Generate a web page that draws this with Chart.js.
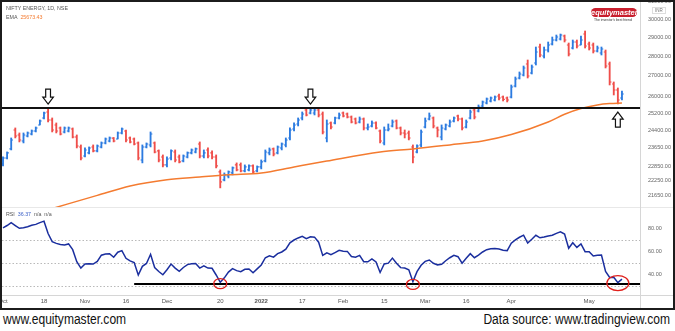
<!DOCTYPE html>
<html>
<head>
<meta charset="utf-8">
<script src="https://cdn.jsdelivr.net/npm/chart.js@4.4.1/dist/chart.umd.min.js"></script>
<style>
  body { margin: 0; background: #fff; font-family: "Liberation Sans", Arial, sans-serif; }
  #frame { position: absolute; left: 0; top: 0; width: 675px; height: 310px; box-sizing: border-box; border: 2px solid #1c1c1c; overflow: hidden; background: #fff; }
  #priceBox { position: absolute; left: 0; top: 0; width: 671px; height: 205px; }
  #rsiBox { position: absolute; left: 0; top: 205px; width: 671px; height: 100px; }
  .sep { position: absolute; background: #d6d6d6; }
  .txt { position: absolute; white-space: nowrap; color: #555; }
  #logo { position: absolute; left: 589px; top: 6px; width: 46px; height: 9px; border-radius: 5px; background: #c81e2d; color: #fff; font-weight: bold; font-style: italic; font-size: 7.5px; line-height: 9px; text-align: center; }
  #tag { position: absolute; left: 592px; top: 16px; font-size: 3.4px; color: #333; white-space: nowrap; }
  #inr { position: absolute; left: 650px; top: 5px; font-size: 4.5px; color: #777; border: 1px solid #ddd; padding: 0 2px; line-height: 5px; }
  .foot { position: absolute; top: 311px; font-size: 14px; line-height: 16px; color: #111; white-space: nowrap; }
</style>
</head>
<body>
<div id="frame">
  <div id="priceBox"><canvas id="priceChart"></canvas></div>
  <div id="rsiBox"><canvas id="rsiChart"></canvas></div>
  <div class="sep" style="left:0;top:205px;width:671px;height:1px;background:#e8e8e8"></div>
  <div class="sep" style="left:0;top:293px;width:671px;height:1px;"></div>
  <div class="sep" style="left:638px;top:0;width:1px;height:306px;"></div>
  <div class="txt" style="left:4px;top:3px;font-size:5.3px;">NIFTY ENERGY, 1D, NSE</div>
  <div class="txt" style="left:4px;top:12px;font-size:5.3px;">EMA&nbsp;&nbsp;<span style="color:#f47b30">25673.43</span></div>
  <div class="txt" style="left:4px;top:209px;font-size:5.3px;">RSI&nbsp;&nbsp;<span style="color:#3f63c8">36.37</span>&nbsp;&nbsp;n/a&nbsp;&nbsp;n/a</div>
  <div id="logo">equitymaster</div>
  <div id="tag">The investor's best friend</div>
  <div id="inr">INR</div>
</div>
<div class="foot" style="left:3px;transform:scaleX(0.86);transform-origin:left top;">www.equitymaster.com</div>
<div class="foot" style="right:5px;transform:scaleX(0.86);transform-origin:right top;">Data source: www.tradingview.com</div>

<script>
// NIFTY ENERGY daily bars, 1 Oct 2021 .. 13 May 2022 (index = trading day)
const opens = [
  22939, 23195, 23585, 24428, 24203, 23936, 24159, 24248, 24383, 24656,
  24977, 25256, 24885, 24656, 24519, 24338, 24383, 24474, 24114, 23672,
  23281, 23411, 23672, 23498, 23672, 23848, 23936, 24060, 24025, 24293,
  24383, 24069, 24025, 23848, 23109, 23672, 23760, 23848, 23498, 23238,
  22897, 23195, 23454, 23238, 23067, 23238, 23411, 23454, 23804, 23281,
  23541, 23411, 23238, 22602, 22270, 22435, 22560, 22897, 22897, 22644,
  22686, 22854, 22644, 22812, 23067, 23411, 23585, 23411, 23628, 23760,
  24069, 24474, 24701, 24977, 25349, 25209, 25209, 25349, 25163, 24069,
  24747, 24747, 24977, 25209, 25163, 25023, 24931, 24793, 24931, 24519,
  24610, 24747, 24383, 23848, 24428, 24610, 24839, 24519, 24293, 24293,
  23672, 23454, 23760, 24564, 24931, 24977, 24519, 24114, 24474, 24610,
  24839, 25070, 24931, 24564, 24977, 25349, 25303, 25538, 25680, 25775,
  25823, 26015, 25967, 25919, 25967, 26501, 26896, 27046, 27602, 27146,
  27653, 28484, 28014, 28327, 28643, 28856, 28909, 29070, 28590, 28432,
  28749, 28590, 29178, 28643, 28590, 28274, 28170, 28222, 27602, 26599,
  26305, 25919
];
const highs = [
  23238, 23454, 24069, 24519, 24293, 24293, 24338, 24428, 24564, 24885,
  25256, 25444, 24977, 24747, 24564, 24564, 24564, 24519, 24203, 23760,
  23628, 23672, 23760, 23760, 23892, 24069, 24114, 24090, 24338, 24519,
  24428, 24114, 24069, 23892, 23760, 23848, 24338, 23892, 23541, 23324,
  23238, 23541, 23541, 23324, 23324, 23454, 23585, 23628, 23892, 23541,
  23628, 23498, 23324, 22686, 22560, 22644, 22812, 22982, 22982, 22897,
  22897, 22897, 22854, 23109, 23541, 23628, 23628, 23716, 23848, 24069,
  24519, 24747, 24977, 25256, 25397, 25444, 25444, 25397, 25256, 24885,
  24793, 25023, 25209, 25256, 25209, 25070, 24977, 25023, 24977, 24701,
  24839, 24793, 24428, 24564, 24701, 24885, 24885, 24564, 24428, 24383,
  23760, 23760, 24428, 24977, 25209, 25023, 24564, 24656, 24701, 24885,
  25023, 25116, 24977, 24885, 25349, 25444, 25585, 25775, 25919, 25967,
  26015, 26111, 26015, 25967, 26550, 26946, 27197, 27500, 27807, 27551,
  28484, 28643, 28484, 28749, 29017, 29124, 29178, 29124, 28696, 28856,
  28856, 29070, 29341, 28749, 28696, 28537, 28484, 28327, 27705, 26698,
  26403, 26257
];
const lows = [
  22854, 23152, 23541, 24069, 23892, 23848, 24114, 24203, 24338, 24656,
  24931, 24793, 24338, 24293, 24203, 24293, 24338, 24069, 23628, 23109,
  23238, 23367, 23454, 23454, 23628, 23804, 23892, 23892, 24025, 24248,
  23892, 23848, 23760, 23109, 22982, 23628, 23672, 23411, 23024, 22812,
  22812, 23109, 23024, 22982, 23024, 23195, 23367, 23411, 23195, 23195,
  23195, 23152, 22770, 21943, 22229, 22352, 22477, 22644, 22602, 22602,
  22644, 22560, 22602, 22728, 23024, 23324, 23281, 23367, 23541, 23672,
  23981, 24383, 24610, 24885, 25070, 25163, 25116, 25023, 24248, 23892,
  24474, 24701, 24931, 25023, 24977, 24747, 24701, 24747, 24428, 24428,
  24564, 24474, 23848, 23760, 24383, 24564, 24474, 24203, 24069, 23981,
  22982, 23411, 23672, 24519, 24885, 24519, 24114, 23981, 24428, 24564,
  24793, 24839, 24428, 24519, 24931, 24931, 25256, 25491, 25633, 25728,
  25775, 25823, 25775, 25728, 25919, 26452, 26846, 26996, 26896, 27096,
  27551, 27962, 27910, 28222, 28590, 28803, 28856, 28749, 28014, 28379,
  28432, 28590, 28432, 28327, 28170, 28222, 28066, 27399, 26550, 26063,
  25633, 25823
];
const closes = [
  23195, 23411, 23981, 24159, 23981, 24203, 24293, 24383, 24519, 24839,
  25209, 24885, 24428, 24383, 24248, 24519, 24519, 24114, 23716, 23195,
  23541, 23628, 23498, 23716, 23848, 24025, 24069, 23936, 24293, 24474,
  23981, 23892, 23804, 23195, 23672, 23804, 24248, 23454, 23109, 22897,
  23152, 23498, 23109, 23024, 23281, 23411, 23541, 23585, 23281, 23411,
  23281, 23238, 22854, 22187, 22477, 22602, 22770, 22686, 22644, 22812,
  22854, 22602, 22812, 23024, 23454, 23541, 23367, 23672, 23804, 23981,
  24428, 24656, 24885, 25163, 25116, 25349, 25349, 25116, 24338, 24701,
  24564, 24977, 25116, 25070, 25023, 24793, 24747, 24931, 24519, 24564,
  24747, 24519, 23936, 24428, 24474, 24793, 24519, 24293, 24248, 24069,
  23238, 23716, 24338, 24839, 25070, 24610, 24428, 24519, 24656, 24793,
  24977, 24931, 24519, 24793, 25256, 25023, 25491, 25728, 25871, 25919,
  25967, 25919, 25850, 25823, 26452, 26846, 27096, 27399, 26996, 27449,
  28222, 28066, 28327, 28590, 28856, 29017, 29124, 28856, 28118, 28749,
  28537, 28856, 28537, 28432, 28274, 28432, 28379, 27500, 26698, 26305,
  25823, 26111
];
const rsi = [
  81, 83, 85.5, 83, 80.6, 81, 82, 83.2, 84, 85.5,
  86.8, 76, 69, 67.5, 66.5, 66, 67, 62, 51.6, 46,
  49.5, 49.8, 49.5, 51.8, 57.2, 58.3, 58.5, 55.4, 59.8, 61.2,
  54.5, 52.3, 50.8, 40, 47.5, 50, 58, 46.5, 43, 40.2,
  44.5, 49.5, 46, 43.2, 46.5, 49, 49.8, 50, 46, 48,
  46, 45.8, 40, 33.6, 37.5, 42.5, 45.5, 43.8, 42.9, 45,
  45.2, 42, 45.3, 48.7, 55, 56.6, 55.5, 58.6, 60, 62.5,
  68, 70.4, 72.2, 73.6, 71.6, 73.2, 72.9, 68.5, 57, 59.3,
  57.6, 59.5, 61.5, 60.7, 60.5, 56, 55.5, 57, 51.5, 51.5,
  54, 51.3, 42.2, 49.6, 50.3, 54.7, 50.3, 46.4, 46, 44.5,
  34.2, 42.9, 48.4, 51.8, 53, 50.2, 48.8, 49.3, 52.4, 55,
  57.1, 55.9, 50.3, 54.5, 58.5, 55, 57.3, 60, 62, 62.8,
  63.1, 62.5, 61.6, 61.2, 67.6, 70.5, 72.8, 74.6, 67.8, 71,
  74.5, 72.3, 73, 73.9, 74.6, 76.2, 77.5, 75.6, 63.2, 68,
  64, 67, 60.3, 60.3, 56.5, 57.2, 57.4, 43, 37.9, 38,
  33.3, 36.37
];

// EMA (bar index -> value)
const emaIdx = [12, 23, 31, 40, 48, 55, 63, 71, 79, 92, 100, 109, 117, 124, 133, 137, 141, 145, 148, 151];
const emaVals = [21120, 21640, 22020, 22275, 22389, 22481, 22556, 22810, 23063, 23452, 23582, 23762, 23933, 24220, 24793, 25150, 25420, 25585, 25650, 25673.43];

const priceTicks = [31000, 30000, 29000, 28000, 27000, 26000, 25200, 24400, 23650, 22850, 22250, 21650];
const rsiTicks = [80, 60, 40];
const rsiLevels = [70, 50, 30];
const xTickIdx = [0, 10, 20, 30, 40, 53, 63, 73, 83, 93, 103, 113, 124, 143];
const xTickLabels = ["Oct", "18", "Nov", "16", "Dec", "20", "2022", "17", "Feb", "15", "Mar", "16", "Apr", "May"];

const supportLevel = 25440;
const arrowIdx = [11, 75, 150];
const arrowDir = ["down", "down", "up"];
const rsiSupport = 32.2;
const rsiSupportFrom = 32;
const circleIdx = [53, 100, 150];
const circleVal = [32.5, 31.8, 33];

const upColor = "#2c7be0";
const downColor = "#ef4e4a";
const xMin = -0.244, xMax = 155.4;

Chart.defaults.font.family = "'Liberation Sans', Arial, sans-serif";

const idx = closes.map((_, i) => i);
const barColors = closes.map((c, i) => c >= opens[i] ? upColor : downColor);

// open / close ticks of the OHLC bars
const ohlcTicks = {
  id: "ohlcTicks",
  afterDatasetDraw(chart, args) {
    if (args.index !== 0) return;
    const { ctx, scales: { x, y } } = chart;
    ctx.save();
    ctx.lineWidth = 1.1;
    idx.forEach(i => {
      const px = x.getPixelForValue(i);
      const yo = y.getPixelForValue(opens[i]);
      const yc = y.getPixelForValue(closes[i]);
      ctx.strokeStyle = barColors[i];
      ctx.beginPath();
      ctx.moveTo(px - 1.8, yo); ctx.lineTo(px, yo);
      ctx.moveTo(px, yc); ctx.lineTo(px + 1.8, yc);
      ctx.stroke();
    });
    ctx.restore();
  }
};

const arrows = {
  id: "arrows",
  afterDraw(chart) {
    const { ctx, scales: { x, y } } = chart;
    const ly = y.getPixelForValue(supportLevel);
    ctx.save();
    ctx.lineWidth = 1.2;
    ctx.strokeStyle = "#111";
    ctx.fillStyle = "#fff";
    arrowIdx.forEach((a, k) => {
      const px = x.getPixelForValue(a);
      const s = arrowDir[k] === "down" ? -1 : 1;
      const tip = ly + s * 4;
      ctx.beginPath();
      ctx.moveTo(px, tip);
      ctx.lineTo(px + 5.3, tip + s * 7);
      ctx.lineTo(px + 2.4, tip + s * 7);
      ctx.lineTo(px + 2.4, tip + s * 15);
      ctx.lineTo(px - 2.4, tip + s * 15);
      ctx.lineTo(px - 2.4, tip + s * 7);
      ctx.lineTo(px - 5.3, tip + s * 7);
      ctx.closePath();
      ctx.fill();
      ctx.stroke();
    });
    ctx.restore();
  }
};

const rsiGrid = {
  id: "rsiGrid",
  beforeDatasetsDraw(chart) {
    const { ctx, chartArea, scales: { y } } = chart;
    ctx.save();
    ctx.strokeStyle = "#b9b9b9";
    ctx.lineWidth = 1;
    ctx.setLineDash([1.5, 2]);
    rsiLevels.forEach(v => {
      const py = Math.round(y.getPixelForValue(v)) + 0.5;
      ctx.beginPath();
      ctx.moveTo(chartArea.left, py);
      ctx.lineTo(chartArea.right, py);
      ctx.stroke();
    });
    ctx.restore();
  }
};

const circles = {
  id: "circles",
  afterDatasetsDraw(chart) {
    const { ctx, scales: { x, y } } = chart;
    ctx.save();
    ctx.strokeStyle = "#e0201c";
    ctx.lineWidth = 1.3;
    circleIdx.forEach((c, k) => {
      const big = k === circleIdx.length - 1;
      ctx.beginPath();
      ctx.ellipse(x.getPixelForValue(c), y.getPixelForValue(circleVal[k]), big ? 11 : 6.5, big ? 7.5 : 5, 0, 0, Math.PI * 2);
      ctx.stroke();
    });
    ctx.restore();
  }
};

new Chart(document.getElementById("priceChart"), {
  type: "bar",
  data: {
    datasets: [
      {
        type: "bar",
        data: idx.map(i => ({ x: i, y: [lows[i], highs[i]] })),
        backgroundColor: barColors,
        barThickness: 1.2,
        grouped: false,
        order: 3
      },
      {
        type: "line",
        data: emaIdx.map((v, k) => ({ x: v, y: emaVals[k] })),
        borderColor: "#f47b30",
        borderWidth: 1.5,
        pointRadius: 0,
        cubicInterpolationMode: "monotone",
        order: 2
      },
      {
        type: "line",
        data: [{ x: xMin - 2, y: supportLevel }, { x: xMax + 2, y: supportLevel }],
        borderColor: "#111",
        borderWidth: 2,
        pointRadius: 0,
        order: 1
      }
    ]
  },
  options: {
    responsive: true,
    maintainAspectRatio: false,
    animation: false,
    layout: { padding: 0 },
    plugins: { legend: { display: false }, tooltip: { enabled: false } },
    scales: {
      x: { type: "linear", min: xMin, max: xMax, offset: false, display: false },
      y: {
        type: "logarithmic",
        position: "right",
        min: 21180,
        max: 30960,
        grid: { display: false, drawTicks: false },
        border: { display: false },
        afterBuildTicks: s => { s.ticks = priceTicks.map(v => ({ value: v })); },
        afterFit: s => { s.width = 33; s.paddingTop = 0; s.paddingBottom = 0; },
        ticks: { autoSkip: false, padding: 8, color: "#666", font: { size: 5.5 }, callback: v => Number(v).toFixed(2) }
      }
    }
  },
  plugins: [ohlcTicks, arrows]
});

new Chart(document.getElementById("rsiChart"), {
  type: "line",
  data: {
    datasets: [
      {
        data: rsi.map((v, i) => ({ x: i, y: v })),
        borderColor: "#1a2e9e",
        borderWidth: 1.5,
        pointRadius: 0,
        tension: 0
      },
      {
        data: [{ x: rsiSupportFrom, y: rsiSupport }, { x: xMax + 2, y: rsiSupport }],
        borderColor: "#000",
        borderWidth: 2,
        pointRadius: 0
      }
    ]
  },
  options: {
    responsive: true,
    maintainAspectRatio: false,
    animation: false,
    layout: { padding: 0 },
    plugins: { legend: { display: false }, tooltip: { enabled: false } },
    scales: {
      x: {
        type: "linear",
        min: xMin,
        max: xMax,
        grid: { display: false, drawTicks: false },
        border: { display: false },
        afterBuildTicks: s => { s.ticks = xTickIdx.map(v => ({ value: v })); },
        afterFit: s => { s.height = 12; s.paddingLeft = 0; s.paddingRight = 0; },
        ticks: {
          autoSkip: false,
          maxRotation: 0,
          padding: 3,
          color: "#555",
          font: c => ({ size: 6, weight: xTickLabels[c.index] === "2022" ? "bold" : "normal" }),
          callback: (v, i) => xTickLabels[i]
        }
      },
      y: {
        position: "right",
        min: 22.6,
        max: 99.1,
        grid: { display: false, drawTicks: false },
        border: { display: false },
        afterBuildTicks: s => { s.ticks = rsiTicks.map(v => ({ value: v })); },
        afterFit: s => { s.width = 33; s.paddingTop = 0; s.paddingBottom = 0; },
        ticks: { autoSkip: false, padding: 8, color: "#666", font: { size: 5.5 }, callback: v => Number(v).toFixed(2) }
      }
    }
  },
  plugins: [rsiGrid, circles]
});
</script>
</body>
</html>
